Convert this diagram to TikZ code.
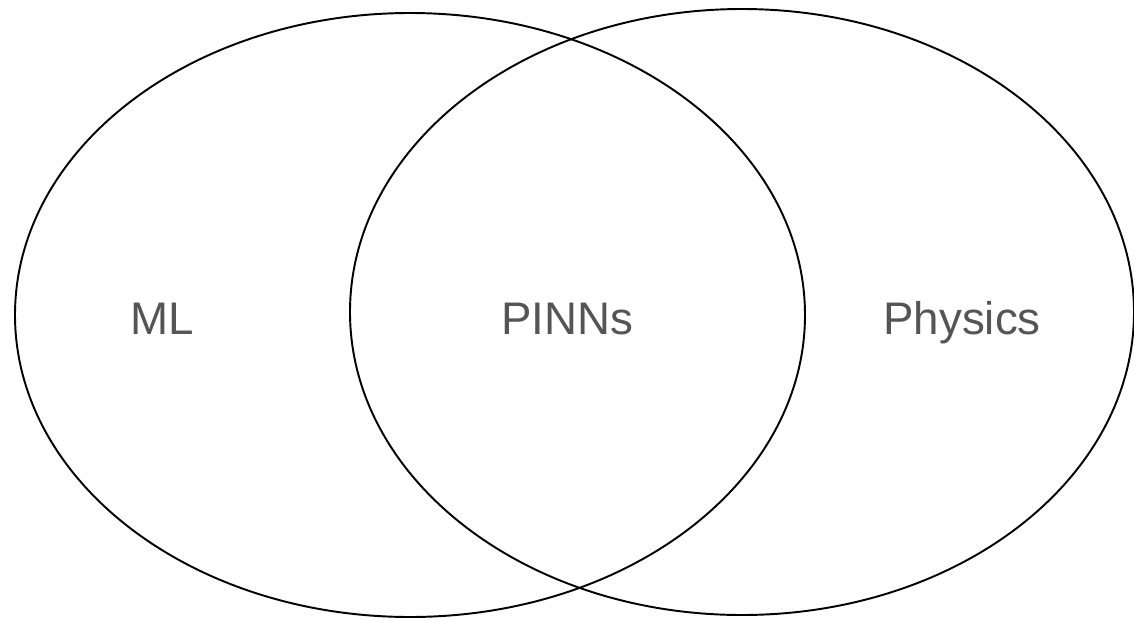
\documentclass[tikz,border=0pt]{standalone}
\usepackage{fontspec}
\setmainfont{Liberation Sans}
\definecolor{labelgray}{HTML}{555555}
\tikzset{
    setline/.style={line width=1.1pt, black},
    setlabel/.style={text=labelgray, font=\fontsize{26}{30}\selectfont, inner sep=0pt, anchor=base}
}
\begin{document}
\begin{tikzpicture}[x=0.02cm, y=-0.02cm]
    % Canvas
    \useasboundingbox (0,0) rectangle (1134,620);

    % Sets
    \draw[setline] (410,315) ellipse [x radius=395, y radius=302];
    \draw[setline] (742,312) ellipse [x radius=392, y radius=303];

    % Labels
    \node[setlabel] (ml) at (162,334) {ML};
    \node[setlabel] (pinns) at (567,334) {PINNs};
    \node[setlabel] (physics) at (962,334) {Physics};
\end{tikzpicture}
\end{document}
